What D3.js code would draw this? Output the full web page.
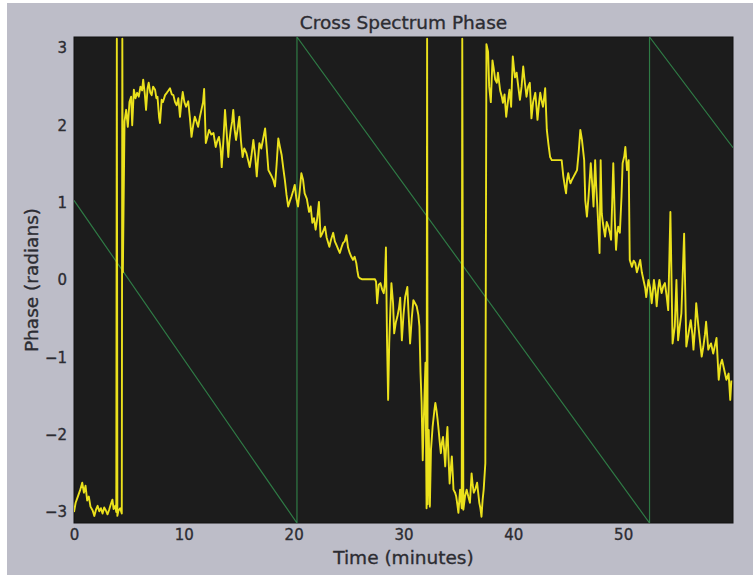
<!DOCTYPE html>
<html>
<head>
<meta charset="utf-8">
<script src="https://cdn.jsdelivr.net/npm/d3@7"></script>
<style>
  html, body { margin: 0; padding: 0; background: #ffffff; }
  svg { display: block; }
  text { font-family: "DejaVu Sans", sans-serif; fill: #2c2c32; stroke: #2c2c32; stroke-width: 0.35px; }
</style>
</head>
<body>
<svg id="chart" width="753" height="575"></svg>
<script>
// Measured cross-spectrum phase, [time in minutes, phase in radians]
const crossPhase = [
  [0.0,-3.0],[0.15,-2.88],[0.35,-2.8],[0.55,-2.72],[0.75,-2.62],[0.9,-2.75],[1.05,-2.66],[1.2,-2.85],
  [1.35,-2.8],[1.5,-2.93],[1.7,-2.98],[1.85,-3.05],[2.0,-2.97],[2.15,-2.92],[2.3,-2.99],[2.45,-2.95],
  [2.6,-3.02],[2.75,-2.94],[2.9,-2.98],[3.05,-3.03],[3.2,-2.97],[3.35,-2.9],[3.5,-2.84],[3.6,-2.96],
  [3.75,-2.92],[3.85,-3.0],[3.9,3.12],[3.95,-3.05],[4.05,-2.98],[4.2,-2.95],[4.35,-3.02],[4.4,3.12],
  [4.45,0.1],[4.6,2.05],[4.75,2.2],[4.9,1.98],[5.05,2.3],[5.2,2.37],[5.3,2.0],[5.45,2.46],
  [5.6,2.35],[5.75,2.42],[5.9,2.37],[6.05,2.5],[6.2,2.45],[6.3,2.59],[6.45,2.4],[6.56,2.2],
  [6.7,2.48],[6.8,2.55],[6.95,2.42],[7.07,2.39],[7.2,2.5],[7.38,2.46],[7.5,2.35],[7.6,2.37],
  [7.75,2.1],[7.83,2.03],[7.98,2.33],[8.1,2.3],[8.29,2.39],[8.45,2.42],[8.6,2.45],[8.74,2.48],
  [8.9,2.4],[9.05,2.39],[9.2,2.3],[9.35,2.26],[9.5,2.35],[9.65,2.11],[9.78,2.3],[9.9,2.43],
  [10.05,2.3],[10.2,2.24],[10.4,2.31],[10.55,2.1],[10.7,1.85],[10.85,2.0],[11.0,2.11],[11.15,2.05],
  [11.3,1.98],[11.45,2.1],[11.6,2.2],[11.75,2.3],[11.85,2.47],[12.0,1.77],[12.15,1.85],[12.3,1.94],
  [12.5,1.88],[12.7,1.9],[12.9,1.72],[13.05,1.8],[13.2,1.85],[13.35,1.7],[13.45,1.46],[13.6,1.8],
  [13.75,2.2],[13.9,1.9],[14.05,1.59],[14.15,1.8],[14.27,1.94],[14.4,2.05],[14.5,2.2],[14.62,1.95],
  [14.75,1.81],[14.9,1.95],[15.05,2.11],[15.2,1.8],[15.35,1.59],[15.5,1.7],[15.7,1.64],[15.85,1.55],
  [16.0,1.46],[16.15,1.6],[16.33,1.81],[16.5,1.6],[16.64,1.34],[16.75,1.55],[16.88,1.77],[17.05,1.7],
  [17.2,1.81],[17.4,1.96],[17.55,1.7],[17.7,1.42],[17.85,1.38],[18.0,1.34],[18.15,1.29],[18.3,1.21],
  [18.45,1.5],[18.6,1.83],[18.75,1.72],[18.9,1.62],[19.05,1.45],[19.2,1.29],[19.35,1.1],[19.5,0.95],
  [19.65,1.02],[19.8,1.08],[19.95,1.15],[20.1,1.23],[20.25,1.05],[20.4,0.95],[20.55,1.15],[20.7,1.38],
  [20.85,1.3],[21.0,1.12],[21.2,1.05],[21.4,0.88],[21.55,0.95],[21.7,0.74],[21.85,0.8],[22.0,0.65],
  [22.15,0.8],[22.3,1.01],[22.45,0.56],[22.6,0.6],[22.85,0.69],[23.0,0.55],[23.25,0.43],[23.4,0.52],
  [23.6,0.61],[23.75,0.5],[23.9,0.45],[24.05,0.4],[24.2,0.35],[24.35,0.42],[24.5,0.48],[24.65,0.5],
  [24.8,0.58],[24.95,0.42],[25.1,0.35],[25.25,0.3],[25.4,0.26],[25.55,0.3],[25.7,0.22],[25.8,0.12],
  [25.9,0.04],[26.05,0.02],[26.2,0.01],[27.4,0.01],[27.5,-0.02],[27.6,-0.3],[27.75,-0.06],[27.9,-0.04],
  [28.05,-0.12],[28.2,-0.17],[28.3,-0.05],[28.4,0.42],[28.5,-0.78],[28.6,-1.55],[28.7,-0.82],[28.8,-0.4],
  [28.9,-0.04],[29.05,-0.3],[29.15,-0.69],[29.3,-0.55],[29.45,-0.47],[29.6,-0.35],[29.7,-0.23],[29.85,-0.78],
  [30.0,-0.45],[30.15,-0.22],[30.35,-0.09],[30.45,-0.4],[30.6,-0.82],[30.75,-0.5],[30.9,-0.26],[31.05,-0.3],
  [31.2,-0.34],[31.35,-0.45],[31.45,-0.6],[31.55,-1.2],[31.65,-1.59],[31.75,-2.33],[31.85,-1.8],[31.9,-1.55],
  [32.0,-1.07],[32.1,-2.95],[32.15,3.12],[32.2,-2.9],[32.3,-1.94],[32.4,-2.93],[32.5,-2.2],[32.65,-1.9],
  [32.8,-1.7],[32.9,-1.59],[33.0,-1.68],[33.1,-1.8],[33.2,-1.94],[33.3,-2.1],[33.4,-2.24],[33.5,-2.1],
  [33.6,-2.03],[33.7,-2.2],[33.8,-2.41],[33.9,-2.1],[34.0,-1.9],[34.1,-2.3],[34.2,-2.63],[34.3,-2.45],
  [34.4,-2.28],[34.5,-2.55],[34.55,-2.71],[34.7,-2.75],[34.8,-2.8],[34.9,-2.9],[35.0,-3.01],[35.15,-2.71],
  [35.3,-2.95],[35.35,3.12],[35.45,-2.97],[35.6,-2.8],[35.75,-2.71],[35.9,-2.8],[36.05,-2.88],[36.2,-2.5],
  [36.3,-2.65],[36.4,-2.75],[36.55,-2.7],[36.7,-2.62],[36.8,-2.75],[36.9,-2.88],[37.0,-2.95],[37.1,-3.06],
  [37.2,-2.85],[37.3,-2.71],[37.45,-2.37],[37.55,3.05],[37.7,2.95],[37.8,2.5],[37.95,2.3],[38.1,2.84],
  [38.2,2.75],[38.35,2.59],[38.5,2.55],[38.6,2.68],[38.8,2.45],[38.95,2.37],[39.05,2.29],[39.2,2.4],
  [39.35,2.11],[39.5,2.3],[39.65,2.46],[39.8,2.24],[39.95,2.89],[40.05,2.75],[40.15,2.62],[40.3,2.68],
  [40.45,2.5],[40.6,2.33],[40.75,2.5],[40.9,2.76],[41.05,2.55],[41.2,2.37],[41.35,2.5],[41.5,2.55],
  [41.65,2.09],[41.8,2.3],[42.0,2.42],[42.1,2.25],[42.2,2.07],[42.35,2.3],[42.45,2.42],[42.6,2.3],
  [42.7,2.24],[42.8,2.35],[42.9,2.48],[43.05,1.94],[43.2,1.75],[43.35,1.59],[43.5,1.55],[44.4,1.55],
  [44.55,1.34],[44.7,1.2],[44.8,1.12],[44.9,1.3],[45.0,1.38],[45.1,1.3],[45.2,1.25],[45.35,1.3],
  [45.5,1.34],[45.65,1.38],[45.8,1.42],[45.95,1.65],[46.1,1.94],[46.25,1.81],[46.45,1.55],[46.55,1.03],
  [46.7,0.82],[46.85,1.08],[47.05,1.51],[47.2,1.2],[47.3,0.95],[47.45,1.55],[47.55,1.2],[47.65,0.95],
  [47.85,0.35],[47.95,1.55],[48.05,0.86],[48.15,0.74],[48.35,0.56],[48.5,0.75],[48.65,0.69],[48.8,0.6],
  [48.9,0.52],[49.0,1.0],[49.1,1.51],[49.25,0.74],[49.35,0.39],[49.45,0.6],[49.55,0.69],[49.7,0.61],
  [49.85,1.08],[49.95,1.51],[50.1,1.6],[50.2,1.72],[50.35,1.42],[50.5,1.55],[50.6,0.26],[50.8,0.17],
  [50.95,0.25],[51.1,0.22],[51.25,0.1],[51.35,0.15],[51.55,0.26],[51.7,0.1],[51.85,0.0],[52.0,-0.1],
  [52.1,-0.22],[52.3,0.0],[52.45,-0.1],[52.6,-0.3],[52.8,0.0],[52.95,-0.15],[53.05,-0.34],[53.2,-0.1],
  [53.3,0.0],[53.5,-0.17],[53.65,-0.08],[53.8,-0.04],[53.95,-0.2],[54.1,-0.39],[54.3,0.88],[54.5,-0.82],
  [54.7,-0.6],[54.85,0.0],[55.0,-0.78],[55.15,-0.6],[55.3,-0.43],[55.55,0.6],[55.75,-0.86],[55.95,-0.69],
  [56.15,-0.52],[56.3,-0.7],[56.4,-0.9],[56.55,-0.6],[56.65,-0.3],[56.85,-0.6],[57.0,-0.8],[57.15,-0.99],
  [57.3,-0.86],[57.45,-0.7],[57.55,-0.54],[57.75,-0.9],[57.9,-0.85],[58.0,-0.82],[58.2,-0.95],[58.35,-0.85],
  [58.5,-0.75],[58.7,-1.29],[58.85,-1.1],[59.0,-1.03],[59.2,-1.16],[59.4,-1.29],[59.6,-1.21],[59.75,-1.55],
  [59.85,-1.3]
];

// Reference phase ramp (wrapped), [time in minutes, phase in radians]
const refPhase = [
  [0, 1.03], [20.3, -Math.PI], [20.3, Math.PI], [52.4, -Math.PI], [52.4, Math.PI], [60, 1.71]
];

const xTicks = [0, 10, 20, 30, 40, 50];
const yTicks = [-3, -2, -1, 0, 1, 2, 3];
const titleText = "Cross Spectrum Phase";
const xLabel = "Time (minutes)";
const yLabel = "Phase (radians)";

const svg = d3.select("#chart");
const W = 753, H = 575;
const plot = { left: 74, right: 733, top: 37, bottom: 523 };

// figure background
svg.append("rect").attr("x", 0).attr("y", 0).attr("width", W).attr("height", H).attr("fill", "#ffffff");
svg.append("rect").attr("x", 7).attr("y", 3).attr("width", W - 7).attr("height", H - 3).attr("fill", "#bdbdc8");

const x = d3.scaleLinear().domain([0, 60]).range([plot.left, plot.right]);
const y = d3.scaleLinear().domain([-Math.PI, Math.PI]).range([plot.bottom, plot.top]);

// axes area
svg.append("rect")
  .attr("x", plot.left).attr("y", plot.top)
  .attr("width", plot.right - plot.left).attr("height", plot.bottom - plot.top)
  .attr("fill", "#1c1c1c").attr("stroke", "#101010").attr("stroke-width", 1);

svg.append("clipPath").attr("id", "plotClip")
  .append("rect")
  .attr("x", plot.left).attr("y", plot.top)
  .attr("width", plot.right - plot.left).attr("height", plot.bottom - plot.top);

const line = d3.line().x(d => x(d[0])).y(d => y(d[1]));

const g = svg.append("g").attr("clip-path", "url(#plotClip)");

g.append("path")
  .datum(refPhase)
  .attr("d", line)
  .attr("fill", "none")
  .attr("stroke", "#2f7a45")
  .attr("stroke-width", 1.2);

g.append("path")
  .datum(crossPhase)
  .attr("d", line)
  .attr("fill", "none")
  .attr("stroke", "#ebe11c")
  .attr("stroke-width", 1.9)
  .attr("stroke-linejoin", "round");

// axes (labels only, ticks sit inside the dark frame)
const xAxis = d3.axisBottom(x).tickValues(xTicks).tickSize(0).tickPadding(6).tickFormat(d3.format("d"));
const gx = svg.append("g").attr("transform", `translate(0,${plot.bottom})`).call(xAxis);
gx.select(".domain").remove();
gx.selectAll("text").attr("font-size", 15).attr("font-family", "DejaVu Sans, sans-serif").attr("fill", "#2c2c32");

const yAxis = d3.axisLeft(y).tickValues(yTicks).tickSize(0).tickPadding(7)
  .tickFormat(d => d < 0 ? "\u2212" + Math.abs(d) : String(d));
const gy = svg.append("g").attr("transform", `translate(${plot.left},0)`).call(yAxis);
gy.select(".domain").remove();
gy.selectAll("text").attr("font-size", 15).attr("font-family", "DejaVu Sans, sans-serif").attr("fill", "#2c2c32");

const cx = (plot.left + plot.right) / 2;

svg.append("text")
  .attr("x", cx).attr("y", 29)
  .attr("text-anchor", "middle")
  .attr("font-size", 18.5)
  .text(titleText);

svg.append("text")
  .attr("x", cx).attr("y", 564)
  .attr("text-anchor", "middle")
  .attr("font-size", 18.5)
  .text(xLabel);

svg.append("text")
  .attr("transform", `translate(38,${(plot.top + plot.bottom) / 2}) rotate(-90)`)
  .attr("text-anchor", "middle")
  .attr("font-size", 18.5)
  .text(yLabel);
</script>
</body>
</html>
